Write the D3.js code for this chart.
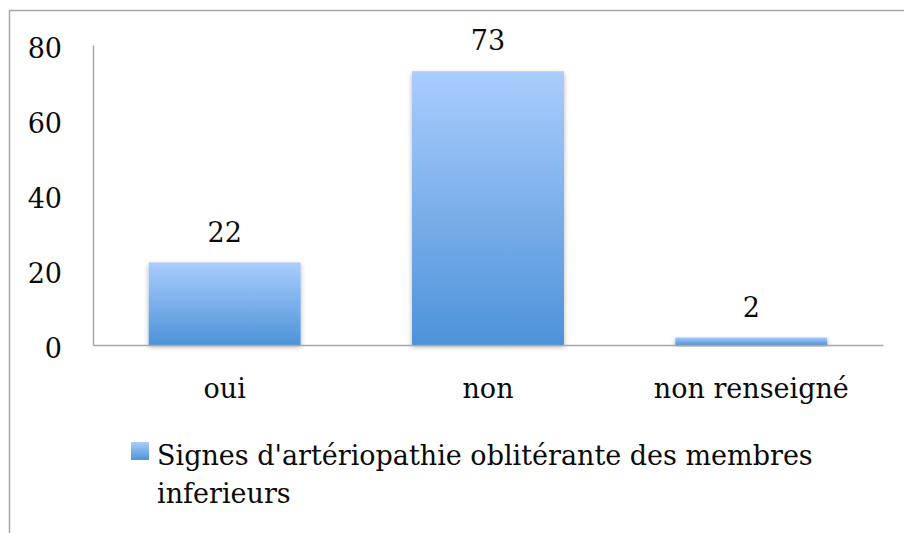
<!DOCTYPE html>
<html>
<head>
<meta charset="utf-8">
<script src="https://cdn.jsdelivr.net/npm/d3@7"></script>
<style>
  body { margin: 0; background: #fff; }
  text { font-family: "DejaVu Serif", serif; fill: #0a0a0a; }
</style>
</head>
<body>
<div id="chart"></div>
<script>
// data
var categories = ["oui", "non", "non renseigné"];
var values = [22, 73, 2];
var yTicks = [0, 20, 40, 60, 80];
var legendLines = ["Signes d'artériopathie oblitérante des membres", "inferieurs"];

var W = 904, H = 533;
var margin = {top: 45, left: 93},
    width = 790,
    height = 300;
var fontSize = "27px";

var svg = d3.select("#chart")
  .append("svg")
    .attr("width", W)
    .attr("height", H);

// gradient + soft shadow for the bars
var defs = svg.append("defs");
var grad = defs.append("linearGradient")
    .attr("id", "barGrad")
    .attr("x1", 0).attr("y1", 0).attr("x2", 0).attr("y2", 1);
grad.append("stop").attr("offset", "0%").attr("stop-color", "#aacdfd");
grad.append("stop").attr("offset", "100%").attr("stop-color", "#4d93d9");

var shadow = defs.append("filter")
    .attr("id", "shadow")
    .attr("x", "-10%").attr("y", "-10%")
    .attr("width", "120%").attr("height", "130%");
shadow.append("feDropShadow")
    .attr("dx", 0).attr("dy", 2)
    .attr("stdDeviation", 2.5)
    .attr("flood-color", "#000")
    .attr("flood-opacity", 0.3);

// outer frame (runs off the picture at right and bottom)
svg.append("rect")
    .attr("x", 9.5).attr("y", 10.5)
    .attr("width", W).attr("height", H)
    .attr("fill", "none")
    .attr("stroke", "#a6a6a6")
    .attr("stroke-width", 1.5);

var g = svg.append("g")
    .attr("transform", "translate(" + margin.left + "," + margin.top + ")");

var x = d3.scaleBand()
    .domain(categories)
    .range([0, width])
    .paddingInner(0.423)
    .paddingOuter(0.2115);

var y = d3.scaleLinear()
    .domain([0, 80])
    .range([height, 0]);

// Y axis
var yAxis = g.append("g")
    .call(d3.axisLeft(y).tickValues(yTicks).tickSize(0).tickPadding(31).tickSizeOuter(0));
yAxis.select(".domain").attr("stroke", "#a6a6a6").attr("stroke-width", 1.5);
yAxis.selectAll("text")
    .attr("dy", "12.5")
    .style("font-size", fontSize)
    .style("font-family", "DejaVu Serif, serif")
    .attr("fill", "#0a0a0a");

// bars
g.selectAll("rect.bar")
  .data(values)
  .enter()
  .append("rect")
    .attr("class", "bar")
    .attr("x", function(d, i) { return x(categories[i]); })
    .attr("y", function(d) { return y(d); })
    .attr("width", x.bandwidth())
    .attr("height", function(d) { return height - y(d); })
    .attr("fill", "url(#barGrad)")
    .attr("filter", "url(#shadow)");

// X axis (drawn after bars so the line sits on top)
var xAxis = g.append("g")
    .attr("transform", "translate(0," + height + ")")
    .call(d3.axisBottom(x).tickSize(0).tickSizeOuter(0));
xAxis.select(".domain").attr("stroke", "#a6a6a6").attr("stroke-width", 1.5);
xAxis.selectAll("text")
    .attr("y", 53)
    .attr("dy", 0)
    .style("font-size", fontSize)
    .style("font-family", "DejaVu Serif, serif")
    .attr("fill", "#0a0a0a");

// value labels
g.selectAll("text.val")
  .data(values)
  .enter()
  .append("text")
    .attr("class", "val")
    .attr("x", function(d, i) { return x(categories[i]) + x.bandwidth() / 2; })
    .attr("y", function(d) { return y(d) - 21; })
    .attr("text-anchor", "middle")
    .style("font-size", fontSize)
    .text(function(d) { return d; });

// legend
var legend = svg.append("g");
legend.append("rect")
    .attr("x", 131).attr("y", 442)
    .attr("width", 18).attr("height", 18)
    .attr("fill", "url(#barGrad)");
legend.append("text")
    .attr("x", 157)
    .attr("y", 465)
    .style("font-size", fontSize)
  .selectAll("tspan")
  .data(legendLines)
  .enter()
  .append("tspan")
    .attr("x", 157)
    .attr("dy", function(d, i) { return i === 0 ? 0 : 38; })
    .text(function(d) { return d; });
</script>
</body>
</html>
